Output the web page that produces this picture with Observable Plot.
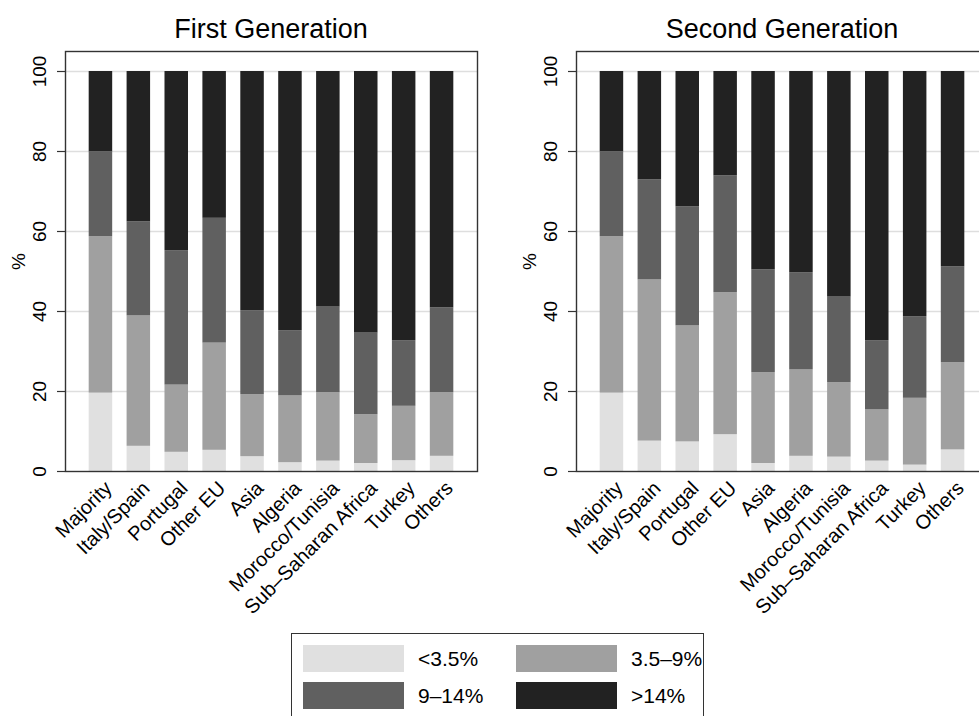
<!DOCTYPE html>
<html>
<head>
<meta charset="utf-8">
<script src="https://cdn.jsdelivr.net/npm/d3@7"></script>
<script src="https://cdn.jsdelivr.net/npm/@observablehq/plot@0.6"></script>
<style>
  html, body { margin: 0; padding: 0; background: #fff; }
  #root { position: relative; width: 979px; height: 716px; overflow: hidden; background: #fff;
          font-family: "Liberation Sans", Arial, Helvetica, sans-serif; color: #000; }
  .ptitle { position: absolute; top: 16px; font-size: 27px; line-height: 27px; text-align: center; white-space: nowrap; }
  .panel { position: absolute; top: 0; }
  #legend { position: absolute; left: 291px; top: 633px; width: 413px; height: 100px;
            border: 1.5px solid #333; box-sizing: border-box; }
  .lg-sw { position: absolute; width: 101px; height: 27px; }
  .lg-tx { position: absolute; font-size: 21px; line-height: 27px; white-space: nowrap; }
</style>
</head>
<body>
<div id="root"></div>
<script>
// ---------- data ----------
const categories = ["Majority", "Italy/Spain", "Portugal", "Other EU", "Asia", "Algeria",
  "Morocco/Tunisia", "Sub\u2013Saharan Africa", "Turkey", "Others"];
const bandLabels = ["<3.5%", "3.5\u20139%", "9\u201314%", ">14%"];
const bandColors = ["#e0e0e0", "#a0a0a0", "#606060", "#222222"];
const yTicks = [0, 20, 40, 60, 80, 100];
const panelTitles = ["First Generation", "Second Generation"];

// First generation shares (%) per band
const first_lt35  = [19.6, 6.3, 4.8, 5.3, 3.7, 2.2, 2.6, 2.0, 2.7, 3.8];
const first_35_9  = [39.1, 32.6, 16.8, 26.8, 15.5, 16.7, 17.1, 12.2, 13.6, 15.9];
const first_9_14  = [21.2, 23.5, 33.6, 31.2, 21.0, 16.3, 21.4, 20.4, 16.4, 21.2];
const first_gt14  = [20.1, 37.6, 44.8, 36.7, 59.8, 64.8, 58.9, 65.4, 67.3, 59.1];

// Second generation shares (%) per band
const second_lt35 = [19.6, 7.6, 7.4, 9.2, 2.0, 3.8, 3.6, 2.6, 1.6, 5.4];
const second_35_9 = [39.1, 40.3, 29.0, 35.5, 22.7, 21.6, 18.6, 12.8, 16.7, 21.8];
const second_9_14 = [21.2, 25.0, 29.8, 29.2, 25.7, 24.3, 21.4, 17.3, 20.4, 24.0];
const second_gt14 = [20.1, 27.1, 33.8, 26.1, 49.6, 50.3, 56.4, 67.3, 61.3, 48.8];

function tidy(series) {
  const rows = [];
  series.forEach((vals, b) => vals.forEach((v, i) => rows.push({cat: categories[i], band: bandLabels[b], value: v})));
  return rows;
}
const firstData = tidy([first_lt35, first_35_9, first_9_14, first_gt14]);
const secondData = tidy([second_lt35, second_35_9, second_9_14, second_gt14]);

const root = document.getElementById("root");

function makePanel(data, width, marginLeft, marginRight) {
  return Plot.plot({
    width, height: 620,
    marginLeft, marginRight, marginTop: 51, marginBottom: 149,
    style: "background:transparent;max-width:none;overflow:visible;font-family:'Liberation Sans',Arial,sans-serif;",
    x: {domain: categories, paddingInner: 0.38, paddingOuter: 0.625, round: false, axis: null},
    y: {domain: [0, 105]},
    color: {domain: bandLabels, range: bandColors},
    marks: [
      Plot.ruleY(yTicks.slice(1), {stroke: "#dedede", strokeWidth: 1.5}),
      Plot.barY(data, {x: "cat", y: "value", fill: "band"}),
      Plot.frame({stroke: "#333", strokeWidth: 1.4}),
      Plot.axisY(yTicks, {tickSize: 8, tickFormat: () => "", label: null, stroke: "#333", strokeWidth: 1.2}),
      Plot.text(yTicks, {y: d => d, text: d => String(d), frameAnchor: "left", dx: -26, rotate: -90,
        textAnchor: "middle", lineAnchor: "middle", fontSize: 19, fill: "#000"}),
      Plot.text(["%"], {text: d => d, frameAnchor: "left", dx: -46.5, rotate: -90,
        textAnchor: "middle", lineAnchor: "middle", fontSize: 19, fill: "#000"}),
      Plot.text(categories, {x: d => d, text: d => d, frameAnchor: "bottom", rotate: -45,
        textAnchor: "end", lineAnchor: "top", dx: 2, dy: 8, fontSize: 20, fill: "#000"})
    ]
  });
}

const p1 = makePanel(firstData, 490, 65, 13);
p1.classList.add("panel"); p1.style.left = "0px";
root.appendChild(p1);
const p2 = makePanel(secondData, 510, 86, 12);
p2.classList.add("panel"); p2.style.left = "490px";
root.appendChild(p2);

// titles
[[panelTitles[0], 65, 477], [panelTitles[1], 576, 988]].forEach(([t, a, b]) => {
  const d = document.createElement("div");
  d.className = "ptitle";
  d.textContent = t;
  d.style.left = a + "px";
  d.style.width = (b - a) + "px";
  root.appendChild(d);
});

// legend
const lg = document.createElement("div");
lg.id = "legend";
root.appendChild(lg);
bandLabels.forEach((lab, i) => {
  const col = i % 2, row = Math.floor(i / 2);
  const sw = document.createElement("div");
  sw.className = "lg-sw";
  sw.style.background = bandColors[i];
  sw.style.left = (11 + col * 213) + "px";
  sw.style.top = (11 + row * 37) + "px";
  lg.appendChild(sw);
  const tx = document.createElement("div");
  tx.className = "lg-tx";
  tx.textContent = lab;
  tx.style.left = (126 + col * 213) + "px";
  tx.style.top = (11 + row * 37) + "px";
  lg.appendChild(tx);
});
</script>
</body>
</html>
